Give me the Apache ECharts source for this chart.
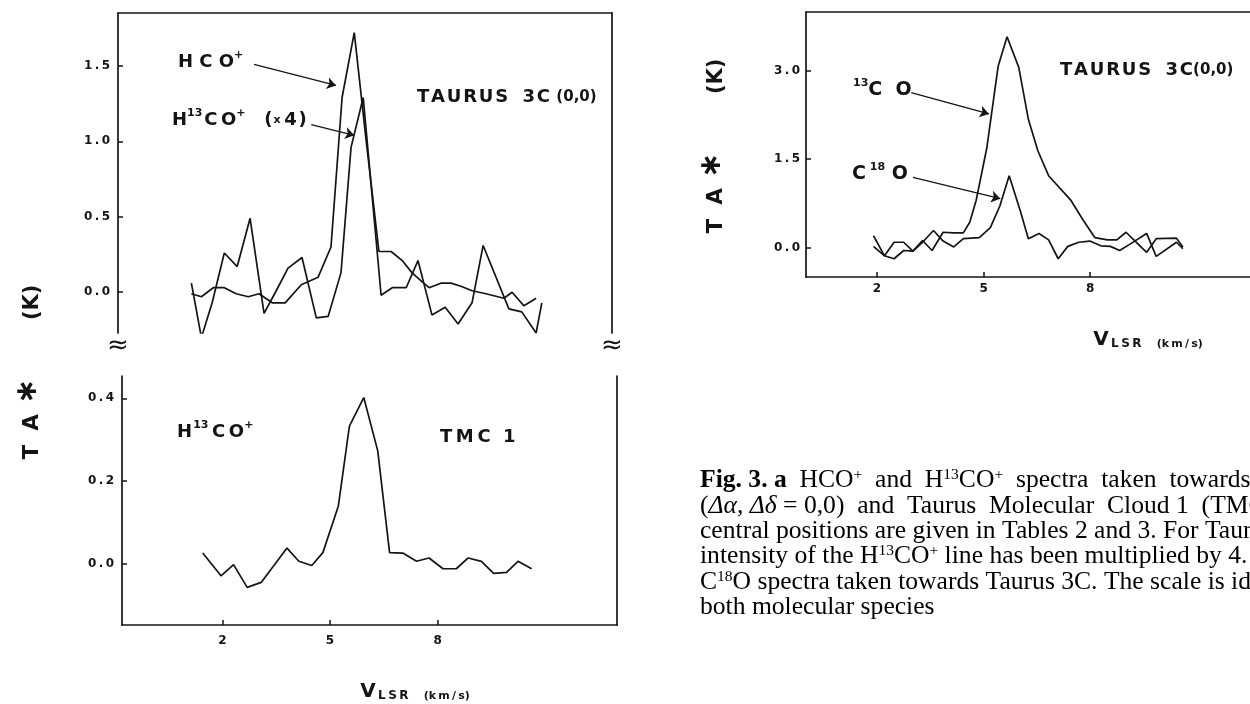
<!DOCTYPE html>
<html><head><meta charset="utf-8">
<script src="https://cdn.jsdelivr.net/npm/echarts@6/dist/echarts.min.js"></script>
<style>html,body{margin:0;padding:0;background:#fff;}#c{width:1250px;height:704px;}</style>
</head><body><div id="c"></div>
<script>
// ---------- data ----------
// Taurus 3C (0,0): HCO+
const hcoV = [1.25,1.53,1.86,2.17,2.50,2.84,3.14,3.51,3.87,4.32,4.79,5.15,5.46,5.80,6.13,6.49,6.83,7.14,7.41,7.69,7.89,8.22,8.50,8.78,9.09,9.48,9.98,10.21,10.54,10.88];
const hcoT = [-0.01,-0.03,0.03,0.03,-0.01,-0.03,-0.01,-0.07,-0.07,0.05,0.10,0.30,1.29,1.72,1.01,0.27,0.27,0.21,0.13,0.07,0.03,0.06,0.06,0.04,0.01,-0.01,-0.04,0.00,-0.09,-0.04];
// Taurus 3C (0,0): H13CO+ (x4)
const h13V = [1.25,1.53,1.83,2.17,2.53,2.89,3.28,3.62,3.95,4.34,4.74,5.07,5.43,5.71,6.05,6.55,6.86,7.25,7.58,7.97,8.34,8.70,9.09,9.40,10.12,10.48,10.88,11.04];
const h13T = [0.06,-0.30,-0.07,0.26,0.17,0.49,-0.14,0.01,0.16,0.23,-0.17,-0.16,0.13,0.96,1.29,-0.02,0.03,0.03,0.21,-0.15,-0.10,-0.21,-0.07,0.31,-0.11,-0.13,-0.27,-0.07];
// TMC 1: H13CO+
const tmcV = [1.45,1.96,2.31,2.69,3.08,3.43,3.80,4.13,4.49,4.80,5.23,5.54,5.94,6.33,6.66,7.03,7.41,7.76,8.15,8.52,8.85,9.22,9.56,9.92,10.24,10.62];
const tmcT = [0.026,-0.029,-0.002,-0.057,-0.045,-0.005,0.038,0.006,-0.004,0.027,0.139,0.333,0.402,0.273,0.027,0.026,0.006,0.014,-0.012,-0.012,0.014,0.006,-0.023,-0.021,0.006,-0.012];
// Taurus 3C (0,0): 13CO
const co13V = [1.90,2.21,2.48,2.75,3.01,3.28,3.55,3.86,4.16,4.43,4.61,4.79,5.09,5.41,5.66,5.99,6.26,6.53,6.83,7.46,7.81,8.13,8.49,8.75,9.01,9.28,9.59,9.86,10.43,10.61];
const co13T = [0.02,-0.14,-0.19,-0.05,-0.06,0.12,-0.05,0.26,0.25,0.25,0.43,0.80,1.69,3.08,3.58,3.06,2.18,1.64,1.22,0.80,0.46,0.17,0.13,0.13,0.26,0.10,-0.08,0.15,0.16,0.01];
// Taurus 3C (0,0): C18O
const c18V = [1.90,2.21,2.48,2.75,3.01,3.28,3.59,3.86,4.16,4.43,4.88,5.19,5.46,5.72,6.03,6.26,6.56,6.83,7.10,7.37,7.68,7.99,8.30,8.57,8.83,9.10,9.59,9.86,10.43,10.61];
const c18T = [0.20,-0.14,0.09,0.09,-0.06,0.09,0.29,0.11,0.01,0.15,0.17,0.34,0.71,1.22,0.63,0.15,0.24,0.13,-0.19,0.02,0.09,0.11,0.03,0.02,-0.05,0.05,0.24,-0.15,0.09,-0.02];

// tick labels
const xTicks = [2, 5, 8];
const yTicksTop = [0, 0.5, 1.0, 1.5];
const yTicksTmc = [0, 0.2, 0.4];
const yTicksRight = [0, 1.5, 3.0];

// arrow annotations (data coordinates: start -> end)
const arrowHCO = [[3.00, 1.51], [5.29, 1.37]];
const arrowH13 = [[4.60, 1.11], [5.80, 1.04]];
const arrow13CO = [[2.96, 2.63], [5.15, 2.27]];
const arrowC18O = [[3.01, 1.19], [5.47, 0.83]];

// ---------- chart ----------
const SANS = '"DejaVu Sans", "Liberation Sans", sans-serif';
const SERIF = '"Liberation Serif", "Times New Roman", serif';
const INK = '#141414';
const TH = '\u2009', HR = '\u200a';
const zip = (a, b) => a.map((v, i) => [v, b[i]]);

const chart = echarts.init(document.getElementById('c'), null, {renderer: 'canvas'});

function lineAxis(extra) {
  return Object.assign({
    type: 'value', axisLine: {show: true, onZero: false, lineStyle: {color: INK, width: 1.7}},
    axisTick: {show: false}, axisLabel: {show: false}, splitLine: {show: false}
  }, extra);
}
function labAxis(extra, vals, margin, fmt) {
  return Object.assign(lineAxis({}), {
    axisTick: {show: true, inside: true, length: 5, customValues: vals, lineStyle: {color: INK, width: 1.5}},
    axisLabel: {show: true, customValues: vals, margin: margin, color: INK, fontFamily: SANS, fontWeight: 'bold', fontSize: 12,
      formatter: fmt || (v => String(v))}
  }, extra);
}
const yFmt = v => v.toFixed(1).split('').join(TH);
function arrowML(a) {
  return {
    silent: true, symbol: ['none', 'arrow'], symbolSize: 9, label: {show: false},
    lineStyle: {color: INK, width: 1.3, type: 'solid'}, emphasis: {disabled: true},
    data: [[{coord: a[0]}, {coord: a[1]}]]
  };
}
function lineSeries(xi, yi, data, ml) {
  const s = {type: 'line', xAxisIndex: xi, yAxisIndex: yi, data: data, showSymbol: false, symbol: 'none',
    lineStyle: {color: INK, width: 1.7}, itemStyle: {color: INK}, animation: false, silent: true};
  if (ml) s.markLine = ml;
  return s;
}

const lb = {fontFamily: SANS, fontWeight: 'bold', fill: INK};
const rich = {
  b: Object.assign({fontSize: 18, lineHeight: 24, verticalAlign: 'middle'}, lb),
  c: Object.assign({fontSize: 19, lineHeight: 24, verticalAlign: 'middle'}, lb),
  s: Object.assign({fontSize: 11, lineHeight: 11, verticalAlign: 'top'}, lb),
  m: Object.assign({fontSize: 15, lineHeight: 24, verticalAlign: 'middle'}, lb),
  x: Object.assign({fontSize: 11, lineHeight: 24, verticalAlign: 'middle'}, lb)
};
function txt(x, y, text) {
  return {type: 'text', x: x, y: y, silent: true,
    style: {text: text, rich: rich, align: 'left', verticalAlign: 'middle', fill: INK}};
}
const sp = s => s.split('').join(HR);

const cs = {fontFamily: SERIF, fill: '#000'};
const crich = {
  r: Object.assign({fontSize: 25.6, lineHeight: 26}, cs),
  f: Object.assign({fontSize: 25.6, lineHeight: 26, fontWeight: 'bold'}, cs),
  i: Object.assign({fontSize: 25.6, lineHeight: 26, fontStyle: 'italic'}, cs),
  p: Object.assign({fontSize: 15.5, lineHeight: 15, verticalAlign: 'top'}, cs)
};
function cap(y, text) {
  return {type: 'text', x: 700, y: y, silent: true,
    style: {text: text, rich: crich, align: 'left', verticalAlign: 'middle'}};
}
const yt = {
  a: {fontFamily: SANS, fontWeight: 'bold', fontSize: 21, lineHeight: 30, fill: INK, verticalAlign: 'bottom'},
  st: {fontFamily: SANS, fontWeight: 'bold', fontSize: 30, lineHeight: 30, fill: INK, verticalAlign: 'top'}
};
const xt = {
  v: {fontFamily: SANS, fontWeight: 'bold', fontSize: 20, lineHeight: 24, fill: INK, verticalAlign: 'bottom'},
  l: {fontFamily: SANS, fontWeight: 'bold', fontSize: 12, lineHeight: 24, fill: INK, verticalAlign: 'bottom'},
  k: {fontFamily: SANS, fontWeight: 'bold', fontSize: 11, lineHeight: 24, fill: INK, verticalAlign: 'bottom'}
};
const vlsr = '{v|V}{l|' + TH + 'L' + TH + 'S' + TH + 'R}{k|    (' + 'k' + TH + 'm' + TH + '/' + TH + 's)}';
const yTitle = '{a|T  A}{st| \u2217}{a|        (K)}';
const brk = (x) => ({type: 'text', x: x, y: 346, silent: true,
  style: {text: '\u2248', fontSize: 26, fontFamily: SANS, fill: INK, align: 'center', verticalAlign: 'middle'}});

const option = {
  backgroundColor: '#ffffff',
  animation: false,
  grid: [
    {left: 118, top: 13, width: 494, height: 320},
    {left: 122, top: 376, width: 495, height: 249},
    {left: 806, top: 12, width: 470, height: 265}
  ],
  xAxis: [
    lineAxis({gridIndex: 0, min: -0.8, max: 13, position: 'top'}),
    labAxis({gridIndex: 1, min: -0.8, max: 13, position: 'bottom'}, xTicks, 10),
    labAxis({gridIndex: 2, min: 0, max: 12.5, position: 'bottom'}, xTicks, 6),
    lineAxis({gridIndex: 2, min: 0, max: 12.5, position: 'top'})
  ],
  yAxis: [
    labAxis({gridIndex: 0, min: -0.27, max: 1.85, position: 'left'}, yTicksTop, 8, yFmt),
    lineAxis({gridIndex: 0, min: -0.27, max: 1.85, position: 'right'}),
    labAxis({gridIndex: 1, min: -0.148, max: 0.454, position: 'left'}, yTicksTmc, 8, yFmt),
    lineAxis({gridIndex: 1, min: -0.148, max: 0.454, position: 'right'}),
    labAxis({gridIndex: 2, min: -0.5, max: 4.0, position: 'left'}, yTicksRight, 6, yFmt)
  ],
  series: [
    lineSeries(0, 0, zip(hcoV, hcoT), arrowML(arrowHCO)),
    lineSeries(0, 0, zip(h13V, h13T), arrowML(arrowH13)),
    lineSeries(1, 2, zip(tmcV, tmcT)),
    lineSeries(2, 4, zip(co13V, co13T), arrowML(arrow13CO)),
    lineSeries(2, 4, zip(c18V, c18T), arrowML(arrowC18O))
  ],
  graphic: [
    // panel labels
    txt(178, 62, '{b|H C O}{s|+}'),
    txt(172, 120, '{b|H}{s|13}{b|' + HR + 'C' + TH + 'O}{s|+}{b|   (}{x|' + HR + 'x}{b|' + TH + '4' + HR + ')}'),
    txt(417, 97, '{b|' + sp('TAURUS') + '  ' + HR + '3' + HR + 'C }{m|(0,0)}'),
    txt(177, 432, '{b|H}{s|' + HR + '13}{b|' + TH + 'C' + TH + 'O}{s|+}'),
    txt(440, 437, '{b|T' + TH + 'M' + TH + 'C  1}'),
    txt(1060, 70, '{b|' + sp('TAURUS') + '  ' + HR + '3' + HR + 'C}{m|(0,0)}'),
    txt(853, 90, '{s|13}{c|C  O}'),
    txt(852, 174, '{c|C}{s| 18}{c| O}'),
    // axis-break marks
    brk(118), brk(612),
    // axis titles
    {type: 'text', x: 28, y: 372, rotation: Math.PI / 2, silent: true, style: {text: yTitle, rich: yt, align: 'center', verticalAlign: 'middle'}},
    {type: 'text', x: 712, y: 146, rotation: Math.PI / 2, silent: true, style: {text: yTitle, rich: yt, align: 'center', verticalAlign: 'middle'}},
    {type: 'text', x: 415, y: 690, silent: true, style: {text: vlsr, rich: xt, align: 'center', verticalAlign: 'middle'}},
    {type: 'text', x: 1148, y: 338, silent: true, style: {text: vlsr, rich: xt, align: 'center', verticalAlign: 'middle'}},
    // caption
    cap(480, '{f|Fig. 3. a}{r|  HCO}{p|+}{r|  and  H}{p|13}{r|CO}{p|+}{r|  spectra  taken  towards}'),
    cap(506, '{r|(}{i|\u0394\u03b1, \u0394\u03b4}{r| = 0,0)  and  Taurus  Molecular  Cloud 1  (TMC 1)}'),
    cap(531, '{r|central positions are given in Tables 2 and 3. For Taurus}'),
    cap(556, '{r|intensity of the H}{p|13}{r|CO}{p|+}{r| line has been multiplied by 4.}'),
    cap(582, '{r|C}{p|18}{r|O spectra taken towards Taurus 3C. The scale is identical for}'),
    cap(607, '{r|both molecular species}')
  ]
};
chart.setOption(option);
</script>
</body></html>
